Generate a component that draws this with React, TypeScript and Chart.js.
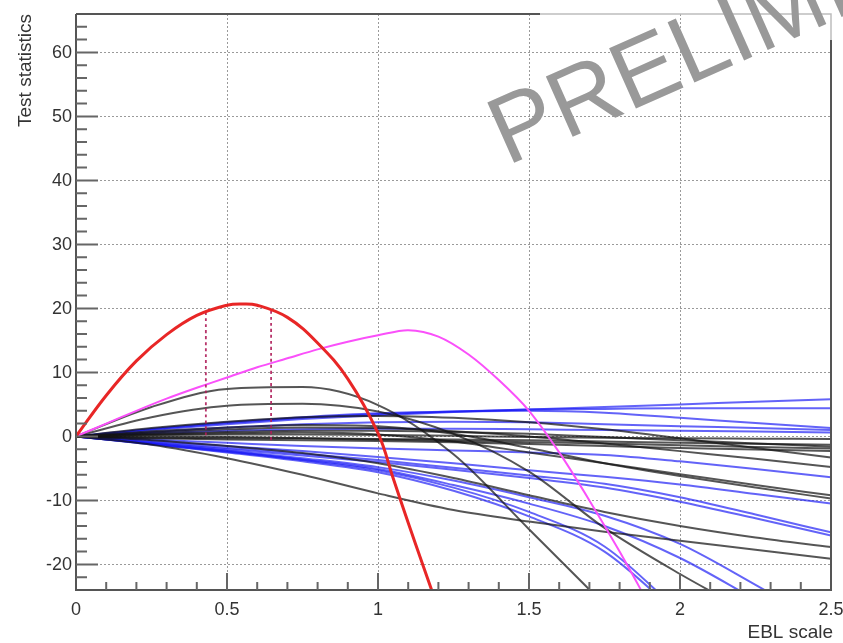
import React, { useEffect, useRef } from "react";
import { Chart, registerables } from "chart.js";

Chart.register(...registerables);

// ---------- axes ----------
const X_MIN = 0;
const X_MAX = 2.5;
const Y_MIN = -24;
const Y_MAX = 66;
const X_TICKS = [0, 0.5, 1, 1.5, 2, 2.5];
const X_TICK_LABELS = ["0", "0.5", "1", "1.5", "2", "2.5"];
const Y_TICKS = [-20, -10, 0, 10, 20, 30, 40, 50, 60];
const Y_TICK_LABELS = ["-20", "-10", "0", "10", "20", "30", "40", "50", "60"];
const X_TITLE = "EBL scale";
const Y_TITLE = "Test statistics";
const WATERMARK = "PRELIMINARY";

// ---------- highlighted curves ----------
const RED_X = [0, 0.1, 0.2, 0.3, 0.4, 0.5, 0.55, 0.6, 0.7, 0.8, 0.9, 1.0, 1.05, 1.1, 1.15, 1.2];
const RED_Y = [0, 6.4, 11.8, 15.9, 18.9, 20.5, 20.7, 20.5, 18.6, 14.6, 9.0, 0.5, -6.5, -13.5, -20.3, -27];

const MAG_X = [0, 0.1, 0.2, 0.3, 0.4, 0.5, 0.6, 0.7, 0.8, 0.9, 1.0, 1.1, 1.2, 1.3, 1.4, 1.5, 1.6, 1.7, 1.8, 1.9];
const MAG_Y = [0, 2.0, 4.0, 5.9, 7.6, 9.2, 10.8, 12.2, 13.6, 14.8, 15.8, 16.6, 15.6, 12.8, 8.8, 4.0, -2.5, -10, -18, -26.5];

// dotted vertical markers (interval on the red curve)
const BAND_X = [0.43, 0.646];
const BAND_TOP = [19.4, 19.6];
const BAND_BOTTOM = [-0.1, -0.9];

// ---------- families of curves on a common grid ----------
const GRID_X = [0, 0.25, 0.5, 0.75, 1, 1.25, 1.5, 1.75, 2, 2.25, 2.5];

const BLACK_Y = [
  [0, 4.6, 7.4, 7.7, 4.9, -2.8, -14.5, -26.3, null, null, null],
  [0, 3.0, 4.8, 5.1, 3.9, 0.4, -5.5, -14.3, -21.5, -28, null],
  [0, -1.3, -3.4, -6.0, -8.9, -11.5, -13.3, -14.9, -16.3, -17.7, -19.1],
  [0, -0.6, -1.5, -2.6, -4.2, -6.5, -9.2, -11.8, -14.0, -15.8, -17.3],
  [0, 0.3, 0.5, 0.6, 0.3, -0.8, -2.5, -4.2, -5.9, -7.6, -9.2],
  [0, 0.8, 1.4, 1.8, 1.6, 0.4, -1.8, -4.2, -6.2, -8.0, -9.7],
  [0, 1.3, 2.3, 3.0, 3.2, 2.9, 2.2, 1.1, -0.3, -1.8, -3.3],
  [0, 0.6, 1.1, 1.4, 1.3, 0.8, 0.0, -1.1, -2.3, -3.5, -4.8],
  [0, 0.2, 0.3, 0.3, 0.2, 0.1, -0.1, -0.2, -0.3, -0.35, -0.4],
  [0, -0.2, -0.3, -0.3, -0.4, -0.5, -0.6, -0.8, -1.0, -1.15, -1.3],
  [0, 0.0, -0.1, -0.3, -0.5, -0.7, -0.9, -1.1, -1.4, -1.65, -1.9],
  [0, -0.3, -0.5, -0.6, -0.7, -0.9, -1.2, -1.5, -1.8, -2.05, -2.3],
  [0, 0.4, 0.7, 0.9, 0.9, 0.7, 0.4, -0.1, -0.6, -1.1, -1.6],
];

const BLUE_Y = [
  [0, 1.0, 1.9, 2.7, 3.3, 3.8, 4.2, 4.6, 5.0, 5.4, 5.8],
  [0, 1.1, 2.1, 2.9, 3.5, 3.9, 4.2, 4.3, 4.4, 4.4, 4.4],
  [0, 1.2, 2.2, 3.0, 3.6, 3.9, 4.0, 3.7, 2.9, 2.1, 1.3],
  [0, 0.5, 0.9, 1.1, 1.2, 1.2, 1.1, 1.0, 0.9, 0.75, 0.6],
  [0, 0.7, 1.4, 1.9, 2.2, 2.3, 2.2, 1.9, 1.6, 1.3, 1.0],
  [0, -0.5, -1.0, -1.5, -1.9, -2.2, -2.5, -2.9, -3.9, -5.1, -6.4],
  [0, -0.7, -1.5, -2.3, -3.2, -4.2, -5.3, -6.3, -7.5, -9.0, -10.5],
  [0, -0.9, -1.8, -2.7, -3.7, -4.9, -6.1, -7.4, -9.5, -12.2, -15.0],
  [0, -1.0, -2.0, -3.0, -4.0, -5.2, -6.5, -8.0, -10.2, -12.8, -15.5],
  [0, -1.1, -2.2, -3.4, -4.8, -6.9, -9.5, -12.4, -16.8, -23.2, -30],
  [0, -1.15, -2.3, -3.6, -5.1, -7.6, -10.5, -14.0, -19.0, -25.5, null],
  [0, -1.2, -2.5, -3.9, -5.6, -8.5, -12.5, -18.0, -28, null, null],
  [0, -1.25, -2.4, -3.7, -5.3, -8.0, -11.8, -17.2, -27.5, null, null],
];

const FONT = "'Liberation Sans', Arial, Helvetica, sans-serif";

function pts(xs: number[], ys: (number | null)[]) {
  return xs.map((x, i) => ({ x, y: ys[i] }));
}

const rootFrame = {
  id: "rootFrame",
  beforeDatasetsDraw(chart: any) {
    const { ctx, chartArea: a, scales } = chart;
    const xs = scales.x;
    const ys = scales.y;
    ctx.save();
    ctx.strokeStyle = "#9a9a9a";
    ctx.lineWidth = 1;
    ctx.setLineDash([2, 2]);
    for (const t of X_TICKS) {
      if (t === X_MIN || t === X_MAX) continue;
      const px = Math.round(xs.getPixelForValue(t)) + 0.5;
      ctx.beginPath();
      ctx.moveTo(px, a.top);
      ctx.lineTo(px, a.bottom);
      ctx.stroke();
    }
    for (const t of Y_TICKS) {
      const py = Math.round(ys.getPixelForValue(t)) + 0.5;
      ctx.beginPath();
      ctx.moveTo(a.left, py);
      ctx.lineTo(a.right, py);
      ctx.stroke();
    }
    ctx.restore();
  },
  afterDatasetsDraw(chart: any) {
    const { ctx, chartArea: a, scales } = chart;
    const xs = scales.x;
    const ys = scales.y;
    ctx.save();
    ctx.setLineDash([]);
    // frame
    ctx.strokeStyle = "#555";
    ctx.lineWidth = 2;
    ctx.beginPath();
    ctx.moveTo(a.left, a.top);
    ctx.lineTo(a.left, a.bottom);
    ctx.lineTo(a.right, a.bottom);
    ctx.lineTo(a.right, a.top + 26);
    ctx.moveTo(a.left, a.top);
    ctx.lineTo(540, a.top);
    ctx.stroke();
    ctx.strokeStyle = "#bdbdbd";
    ctx.lineWidth = 1.5;
    ctx.beginPath();
    ctx.moveTo(540, a.top);
    ctx.lineTo(a.right, a.top);
    ctx.lineTo(a.right, a.top + 26);
    ctx.stroke();

    // ticks
    ctx.strokeStyle = "#666";
    ctx.lineWidth = 2;
    ctx.beginPath();
    for (let v = -22; v <= 64; v += 2) {
      const py = ys.getPixelForValue(v);
      const major = v % 10 === 0;
      ctx.moveTo(a.left, py);
      ctx.lineTo(a.left + (major ? 22 : 11), py);
    }
    for (let i = 1; i < 25; i++) {
      const v = i / 10;
      const px = xs.getPixelForValue(v);
      const major = i % 5 === 0;
      ctx.moveTo(px, a.bottom);
      ctx.lineTo(px, a.bottom - (major ? 17 : 8));
    }
    ctx.stroke();

    // tick labels
    ctx.fillStyle = "#333";
    ctx.font = `18px ${FONT}`;
    ctx.textAlign = "right";
    ctx.textBaseline = "middle";
    Y_TICKS.forEach((t, i) => {
      ctx.fillText(Y_TICK_LABELS[i], 72, ys.getPixelForValue(t) + 1);
    });
    ctx.textAlign = "center";
    ctx.textBaseline = "alphabetic";
    X_TICKS.forEach((t, i) => {
      ctx.fillText(X_TICK_LABELS[i], xs.getPixelForValue(t), 615);
    });

    // axis titles
    ctx.font = `19px ${FONT}`;
    ctx.textAlign = "right";
    ctx.textBaseline = "alphabetic";
    ctx.fillText(X_TITLE, 833, 638);
    ctx.save();
    ctx.translate(31, a.top);
    ctx.rotate(-Math.PI / 2);
    ctx.textAlign = "right";
    ctx.fillText(Y_TITLE, 0, 0);
    ctx.restore();

    // watermark
    ctx.save();
    ctx.translate(507, 166);
    ctx.rotate((-24 * Math.PI) / 180);
    ctx.fillStyle = "#999";
    ctx.font = `96px ${FONT}`;
    ctx.textAlign = "left";
    ctx.textBaseline = "alphabetic";
    ctx.fillText(WATERMARK, 0, 0);
    ctx.restore();

    ctx.restore();
  },
};

export default function App() {
  const ref = useRef<HTMLCanvasElement | null>(null);

  useEffect(() => {
    if (!ref.current) return;
    const datasets: any[] = [];
    const base = {
      pointRadius: 0,
      fill: false,
      spanGaps: false,
      cubicInterpolationMode: "monotone",
    };
    datasets.push({
      ...base,
      cubicInterpolationMode: "default",
      tension: 0.4,
      label: "best",
      data: pts(RED_X, RED_Y),
      borderColor: "rgb(232,38,38)",
      borderWidth: 3,
    });
    BAND_X.forEach((x, i) => {
      datasets.push({
        ...base,
        label: "band" + i,
        data: [
          { x, y: BAND_TOP[i] },
          { x, y: BAND_BOTTOM[i] },
        ],
        borderColor: "rgba(175,30,90,0.9)",
        borderWidth: 1.8,
        borderDash: [3, 3],
      });
    });
    datasets.push({
      ...base,
      cubicInterpolationMode: "default",
      tension: 0.3,
      label: "magenta",
      data: pts(MAG_X, MAG_Y),
      borderColor: "rgb(250,80,250)",
      borderWidth: 2,
    });
    BLACK_Y.forEach((ys, i) => {
      datasets.push({
        ...base,
        label: "black" + i,
        data: pts(GRID_X, ys),
        borderColor: "rgba(20,20,20,0.72)",
        borderWidth: 2,
      });
    });
    BLUE_Y.forEach((ys, i) => {
      datasets.push({
        ...base,
        label: "blue" + i,
        data: pts(GRID_X, ys),
        borderColor: "rgba(25,25,245,0.68)",
        borderWidth: 2,
      });
    });

    const chart = new Chart(ref.current, {
      type: "line",
      data: { datasets },
      options: {
        responsive: false,
        animation: false,
        layout: { padding: { left: 76, right: 12, top: 14, bottom: 53 } },
        scales: {
          x: { type: "linear", min: X_MIN, max: X_MAX, display: false },
          y: { type: "linear", min: Y_MIN, max: Y_MAX, display: false },
        },
        plugins: {
          legend: { display: false },
          tooltip: { enabled: false },
        },
      },
      plugins: [rootFrame],
    } as any);
    return () => chart.destroy();
  }, []);

  return (
    <div style={{ position: "absolute", left: 0, top: 0, width: 843, height: 643, background: "#fff" }}>
      <canvas ref={ref} width={843} height={643} style={{ display: "block" }} />
    </div>
  );
}
